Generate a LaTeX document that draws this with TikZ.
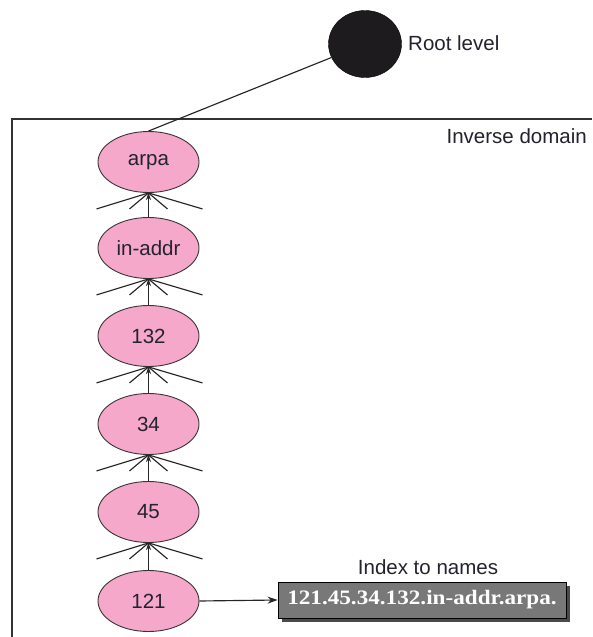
\documentclass[tikz,border=0pt]{standalone}
\usepackage{fontspec}
\setmainfont{Liberation Sans}
\newfontfamily\boxserif{Liberation Serif}
\usetikzlibrary{arrows.meta,shapes.geometric}
\definecolor{nodepink}{HTML}{F5A8C9}
\definecolor{nodeedge}{HTML}{3A3438}
\definecolor{rootfill}{HTML}{1E1B1E}
\definecolor{labelink}{HTML}{23232F}
\definecolor{namebox}{HTML}{787878}
\definecolor{nameshadow}{HTML}{4A4A4A}
\tikzset{
  level/.style={ellipse, draw=nodeedge, line width=0.9pt, fill=nodepink,
    minimum width=101pt, minimum height=61pt, inner sep=0pt,
    font=\fontsize{20.5}{22}\selectfont, text=labelink},
  caption/.style={font=\fontsize{20.5}{22}\selectfont, text=labelink, inner sep=0pt},
  link/.style={line width=1.15pt, draw=black!85},
  uparrow/.style={link, -{Stealth[length=7pt,width=5pt]}},
}
\begin{document}
\begin{tikzpicture}[x=1pt,y=-1pt]
\useasboundingbox (0,0) rectangle (592,637);
\fill[white] (0,0) rectangle (592,637);

% frame of the inverse domain
\draw[line width=1.1pt, draw=black!80] (12,637) -- (12,119) -- (592,119);
\node[caption, anchor=east] (inv) at (587,136) {Inverse domain};

% root of the tree
\node[ellipse, fill=rootfill, draw=black, minimum width=73pt, minimum height=67pt, inner sep=0pt] (root) at (365,44) {};
\node[caption, anchor=west] (rootlbl) at (408,43) {Root level};

% chain of labels
\node[level] (n0) at (148.5,162) {arpa};
\node[level] (n1) at (148.5,248) {in-addr};
\node[level] (n2) at (148.5,336) {132};
\node[level] (n3) at (148.5,424) {34};
\node[level] (n4) at (148.5,512) {45};
\node[level] (n5) at (148.5,601) {121};

\draw[link] (n0.north) -- (root);

% fans of sibling branches below each level
\foreach \p/\c in {n0/n1,n1/n2,n2/n3,n3/n4,n4/n5}{
  \draw[link] (\p.south) -- ++(-52,16);
  \draw[link] (\p.south) -- ++(-19,16);
  \draw[link] (\p.south) -- ++(19,16);
  \draw[link] (\p.south) -- ++(54,16);
  \draw[uparrow] (\c.north) -- (\p.south);
}

% resulting domain name
\fill[nameshadow] (282,586) rectangle (570,622);
\node[draw=black, line width=0.9pt, fill=namebox, minimum width=288pt, minimum height=36pt, inner sep=0pt,
  text=white, font=\boxserif\bfseries\fontsize{20.5}{22}\selectfont] (name) at (422,600)
  {\scalebox{1.13}[1]{121.45.34.132.in-addr.arpa.}};
\node[caption] (idx) at (428,567) {Index to names};

\draw[link, -{Stealth[length=10pt,width=7pt]}] (n5.east) -- (name.west);
\end{tikzpicture}
\end{document}
